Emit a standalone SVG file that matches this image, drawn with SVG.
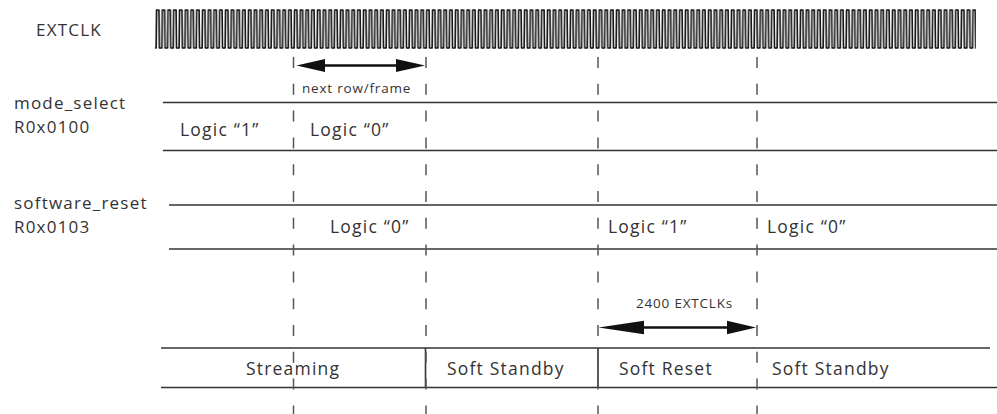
<svg xmlns="http://www.w3.org/2000/svg" width="997" height="414" viewBox="0 0 997 414">
<style>
  text { font-family: "Open Sans", "Noto Sans", "DejaVu Sans", sans-serif; fill: #333; font-weight: 400; }
  .lbl { font-size: 17px; letter-spacing: 1.2px; }
  .big { font-size: 17.5px; letter-spacing: 1.2px; }
  .sm { font-size: 13.5px; letter-spacing: 0.8px; }
  .ln { stroke: #333; stroke-width: 1.6; fill: none; }
  .dash { stroke: #555; stroke-width: 1.5; stroke-dasharray: 11 15.8; fill: none; }
  .shaft { stroke: #111; stroke-width: 2.5; fill: none; }
  .head { fill: #111; }
</style>
<defs>
  <pattern id="clk" patternUnits="userSpaceOnUse" x="155" y="0" width="5.75" height="60">
    <path d="M0,48 L1.1,48 L1.5,10 L3.9,10 L4.3,48 L5.75,48" stroke="#111" stroke-width="1.6" fill="none" stroke-linejoin="round"/>
  </pattern>
</defs>
<rect width="997" height="414" fill="#fff"/>

<g id="extclk">
  <text class="lbl" x="36" y="36">EXTCLK</text>
  <rect x="155" y="8" width="821" height="42" fill="url(#clk)"/>
</g>

<g id="mode_select">
  <text class="lbl" x="14" y="109">mode_select</text>
  <text class="lbl" x="14" y="133">R0x0100</text>
  <line class="ln" x1="163" y1="102.5" x2="997" y2="102.5"/>
  <line class="ln" x1="163" y1="150.5" x2="997" y2="150.5"/>
  <text class="big" x="180" y="136">Logic “1”</text>
  <text class="big" x="310" y="136">Logic “0”</text>
</g>

<g id="software_reset">
  <text class="lbl" x="14" y="209">software_reset</text>
  <text class="lbl" x="14" y="233">R0x0103</text>
  <line class="ln" x1="169" y1="205" x2="997" y2="205"/>
  <line class="ln" x1="169" y1="249" x2="997" y2="249"/>
  <text class="big" x="330" y="233">Logic “0”</text>
  <text class="big" x="608" y="233">Logic “1”</text>
  <text class="big" x="767" y="233">Logic “0”</text>
</g>

<g id="state">
  <line class="ln" x1="161" y1="348" x2="990" y2="348"/>
  <line class="ln" x1="161" y1="387.5" x2="997" y2="387.5"/>
  <line class="ln" x1="425.5" y1="348" x2="425.5" y2="387.5"/>
  <line class="ln" x1="598" y1="348" x2="598" y2="387.5"/>
  <text class="big" x="246" y="375">Streaming</text>
  <text class="big" x="447" y="375">Soft Standby</text>
  <text class="big" x="619" y="375">Soft Reset</text>
  <text class="big" x="772" y="375">Soft Standby</text>
</g>

<g id="connectors">
  <line class="dash" x1="293.5" y1="57" x2="293.5" y2="414"/>
  <line class="dash" x1="426" y1="57" x2="426" y2="414"/>
  <line class="dash" x1="598" y1="57" x2="598" y2="414"/>
  <line class="dash" x1="757" y1="57" x2="757" y2="414"/>

  <line class="shaft" x1="322" y1="65.5" x2="400" y2="65.5"/>
  <polygon class="head" points="296.5,65.5 325,59 325,72"/>
  <polygon class="head" points="425,65.5 396,59 396,72"/>
  <text class="sm" x="302" y="93">next row/frame</text>

  <line class="shaft" x1="640" y1="327.5" x2="730" y2="327.5"/>
  <polygon class="head" points="598.5,327.5 644,320.7 644,334.3"/>
  <polygon class="head" points="756,327.5 727,320.7 727,334.3"/>
  <text class="sm" x="636" y="308">2400 EXTCLKs</text>
</g>
</svg>
